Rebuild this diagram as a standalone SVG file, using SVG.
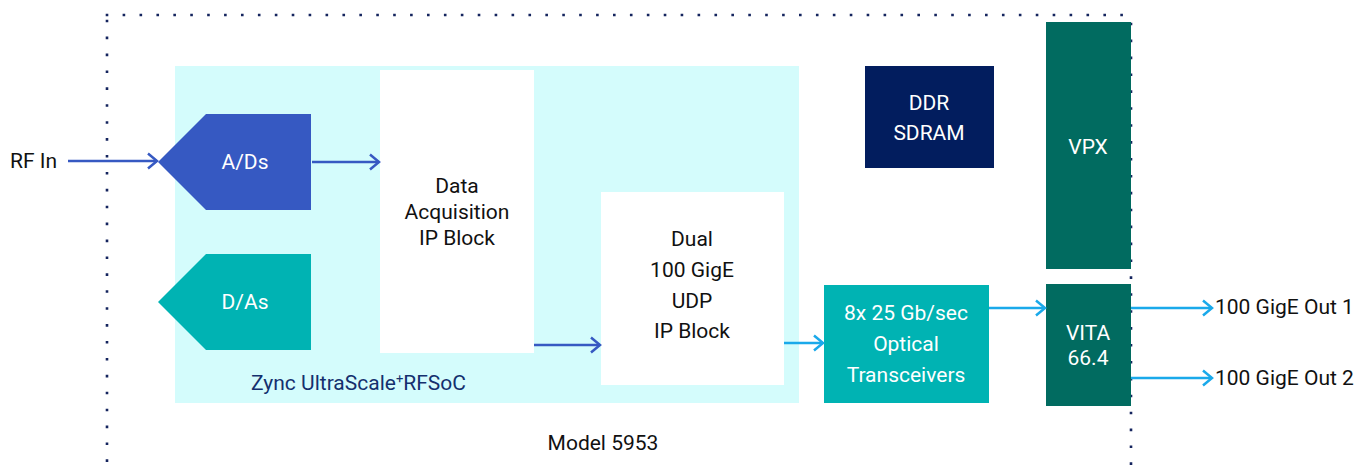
<svg xmlns="http://www.w3.org/2000/svg" width="1354" height="465" viewBox="0 0 1354 465">
<defs>
<style>
text{font-family:Roboto,"Liberation Sans",sans-serif;font-weight:400}
.w{fill:#ffffff;font-size:21px;text-anchor:middle}
.k{fill:#111111;font-size:21px;text-anchor:middle}
.lab{fill:#111111;font-size:21px}
.dot{fill:none;stroke:#14245e;stroke-width:2.6;stroke-dasharray:0.01 16.9;stroke-linecap:square}
.cb{fill:none;stroke:#3659c2;stroke-width:2.5}
.cs{fill:none;stroke:#1aa9ea;stroke-width:2.5}
</style>
<marker id="ab" markerWidth="14" markerHeight="18" refX="11" refY="9" orient="auto" markerUnits="userSpaceOnUse"><path d="M2,1.5 L11,9 L2,16.5" fill="none" stroke="#3659c2" stroke-width="2.5"/></marker>
<marker id="as" markerWidth="14" markerHeight="18" refX="11" refY="9" orient="auto" markerUnits="userSpaceOnUse"><path d="M2,1.5 L11,9 L2,16.5" fill="none" stroke="#1aa9ea" stroke-width="2.5"/></marker>
</defs>
<rect width="1354" height="465" fill="#ffffff"/>
<g id="border">
<path class="dot" d="M107,15 H1131"/>
<path class="dot" d="M107,21 V465"/>
<path class="dot" d="M1131,24 V465"/>
</g>
<g id="rfsoc">
<rect x="175" y="66" width="624" height="337" fill="#d4fcfc"/>
<text x="251" y="390" font-size="21" fill="#14306e">Zync UltraScale<tspan font-size="13" dy="-7">+</tspan><tspan dy="7">RFSoC</tspan></text>
</g>
<g id="adc">
<polygon points="206,114 311,114 311,210 206,210 158,162" fill="#3659c2"/>
<text class="w" x="245" y="169">A/Ds</text>
</g>
<g id="dac">
<polygon points="206,254 311,254 311,350 206,350 158,302" fill="#00b3b3"/>
<text class="w" x="245" y="309">D/As</text>
</g>
<g id="daq">
<rect x="380" y="70" width="154" height="283" fill="#ffffff"/>
<text class="k" x="457" y="193">Data</text>
<text class="k" x="457" y="219">Acquisition</text>
<text class="k" x="457" y="245">IP Block</text>
</g>
<g id="udp">
<rect x="601" y="192" width="183" height="193" fill="#ffffff"/>
<text class="k" x="692" y="246">Dual</text>
<text class="k" x="692" y="277">100 GigE</text>
<text class="k" x="692" y="308">UDP</text>
<text class="k" x="692" y="338">IP Block</text>
</g>
<g id="optical">
<rect x="824" y="285" width="165" height="118" fill="#00b3b3"/>
<text class="w" x="906" y="320">8x 25 Gb/sec</text>
<text class="w" x="906" y="351">Optical</text>
<text class="w" x="906" y="382">Transceivers</text>
</g>
<g id="ddr">
<rect x="865" y="66" width="129" height="102" fill="#021d5e"/>
<text class="w" x="929" y="110">DDR</text>
<text class="w" x="929" y="140">SDRAM</text>
</g>
<g id="vpx">
<rect x="1046" y="22" width="85" height="247" fill="#016b60"/>
<text class="w" x="1088" y="154">VPX</text>
</g>
<g id="vita">
<rect x="1046" y="284" width="85" height="122" fill="#016b60"/>
<text class="w" x="1088" y="340">VITA</text>
<text class="w" x="1088" y="365">66.4</text>
</g>
<g id="labels">
<text class="lab" x="10" y="168">RF In</text>
<text class="lab" x="1215" y="314">100 GigE Out 1</text>
<text class="lab" x="1215" y="385">100 GigE Out 2</text>
<text class="k" x="603" y="450" font-size="19.5">Model 5953</text>
</g>
<g id="connectors">
<line class="cb" x1="68" y1="161" x2="157" y2="161" marker-end="url(#ab)"/>
<line class="cb" x1="312" y1="162" x2="379" y2="162" marker-end="url(#ab)"/>
<line class="cb" x1="534" y1="345" x2="600" y2="345" marker-end="url(#ab)"/>
<line class="cs" x1="784" y1="343" x2="823" y2="343" marker-end="url(#as)"/>
<line class="cs" x1="989" y1="308" x2="1045" y2="308" marker-end="url(#as)"/>
<line class="cs" x1="1131" y1="308" x2="1212" y2="308" marker-end="url(#as)"/>
<line class="cs" x1="1131" y1="378" x2="1212" y2="378" marker-end="url(#as)"/>
</g>
</svg>
